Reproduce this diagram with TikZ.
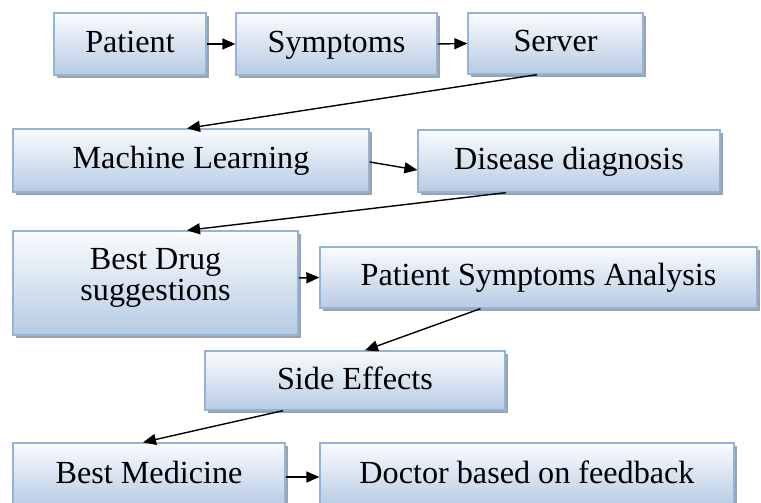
\documentclass[tikz,border=0pt]{standalone}
\usepackage{fontspec}
\setmainfont{Liberation Serif}
\usetikzlibrary{arrows.meta,shadows,calc}
\definecolor{boxborder}{HTML}{95B3D7}
\definecolor{boxtop}{HTML}{FAFCFE}
\definecolor{boxbot}{HTML}{B7CBE4}
\definecolor{boxshadow}{HTML}{9AA3AE}
\tikzset{
  boxbase/.style={draw=boxborder, line width=1.3bp, top color=boxtop, bottom color=boxbot,
    drop shadow={shadow xshift=3bp, shadow yshift=-3bp, fill=boxshadow, opacity=1},
    inner sep=0pt, align=center, text=black,
    font=\fontsize{32.3}{31}\selectfont},
  box/.style={boxbase, text height=23bp, text depth=6bp},
  link/.style={line width=1.4bp, -{Triangle[length=13bp,width=11bp]}}
}
\begin{document}
\begin{tikzpicture}[x=1bp,y=-1bp]
\useasboundingbox (0,0) rectangle (761,503);
\node[box, minimum width=152bp, minimum height=62bp] (patient) at (130,44) {Patient};
\node[box, minimum width=201bp, minimum height=62bp] (symptoms) at (336.5,44) {Symptoms};
\node[box, minimum width=175bp, minimum height=61bp] (server) at (555.5,43.5) {Server};
\node[box, minimum width=356bp, minimum height=63bp] (ml) at (191,160.5) {Machine Learning};
\node[box, minimum width=302bp, minimum height=62bp] (dd) at (569,161) {Disease diagnosis};
\node[boxbase, minimum width=285bp, minimum height=104bp] (bd) at (155.5,283) {Best Drug\\suggestions\rule[-17bp]{0pt}{1bp}};
\node[box, minimum width=437bp, minimum height=61bp] (psa) at (538.5,277.5) {Patient Symptoms Analysis};
\node[box, minimum width=300bp, minimum height=59bp] (se) at (355,380.5) {Side Effects};
\node[box, minimum width=272bp, minimum height=63bp] (bm) at (149,474.5) {Best Medicine};
\node[box, minimum width=414bp, minimum height=63bp] (doc) at (527,474.5) {Doctor based on feedback};

\draw[link] (patient.east) -- (symptoms.west);
\draw[link] (symptoms.east) -- (server.west);
\draw[link] ([xshift=-18.5bp]server.south) -- ([xshift=-4bp]ml.north);
\draw[link] ([yshift=-1.5bp]ml.east) -- ([yshift=-9bp]dd.west);
\draw[link] ([xshift=-63bp]dd.south) -- ([xshift=31.5bp]bd.north);
\draw[link] ([yshift=5bp]bd.east) -- (psa.west);
\draw[link] ([xshift=-58bp]psa.south) -- ([xshift=10bp]se.north);
\draw[link] ([xshift=-72bp]se.south) -- ([xshift=-6bp]bm.north);
\draw[link] ([yshift=-2.5bp]bm.east) -- ([yshift=-2.5bp]doc.west);
\end{tikzpicture}
\end{document}
